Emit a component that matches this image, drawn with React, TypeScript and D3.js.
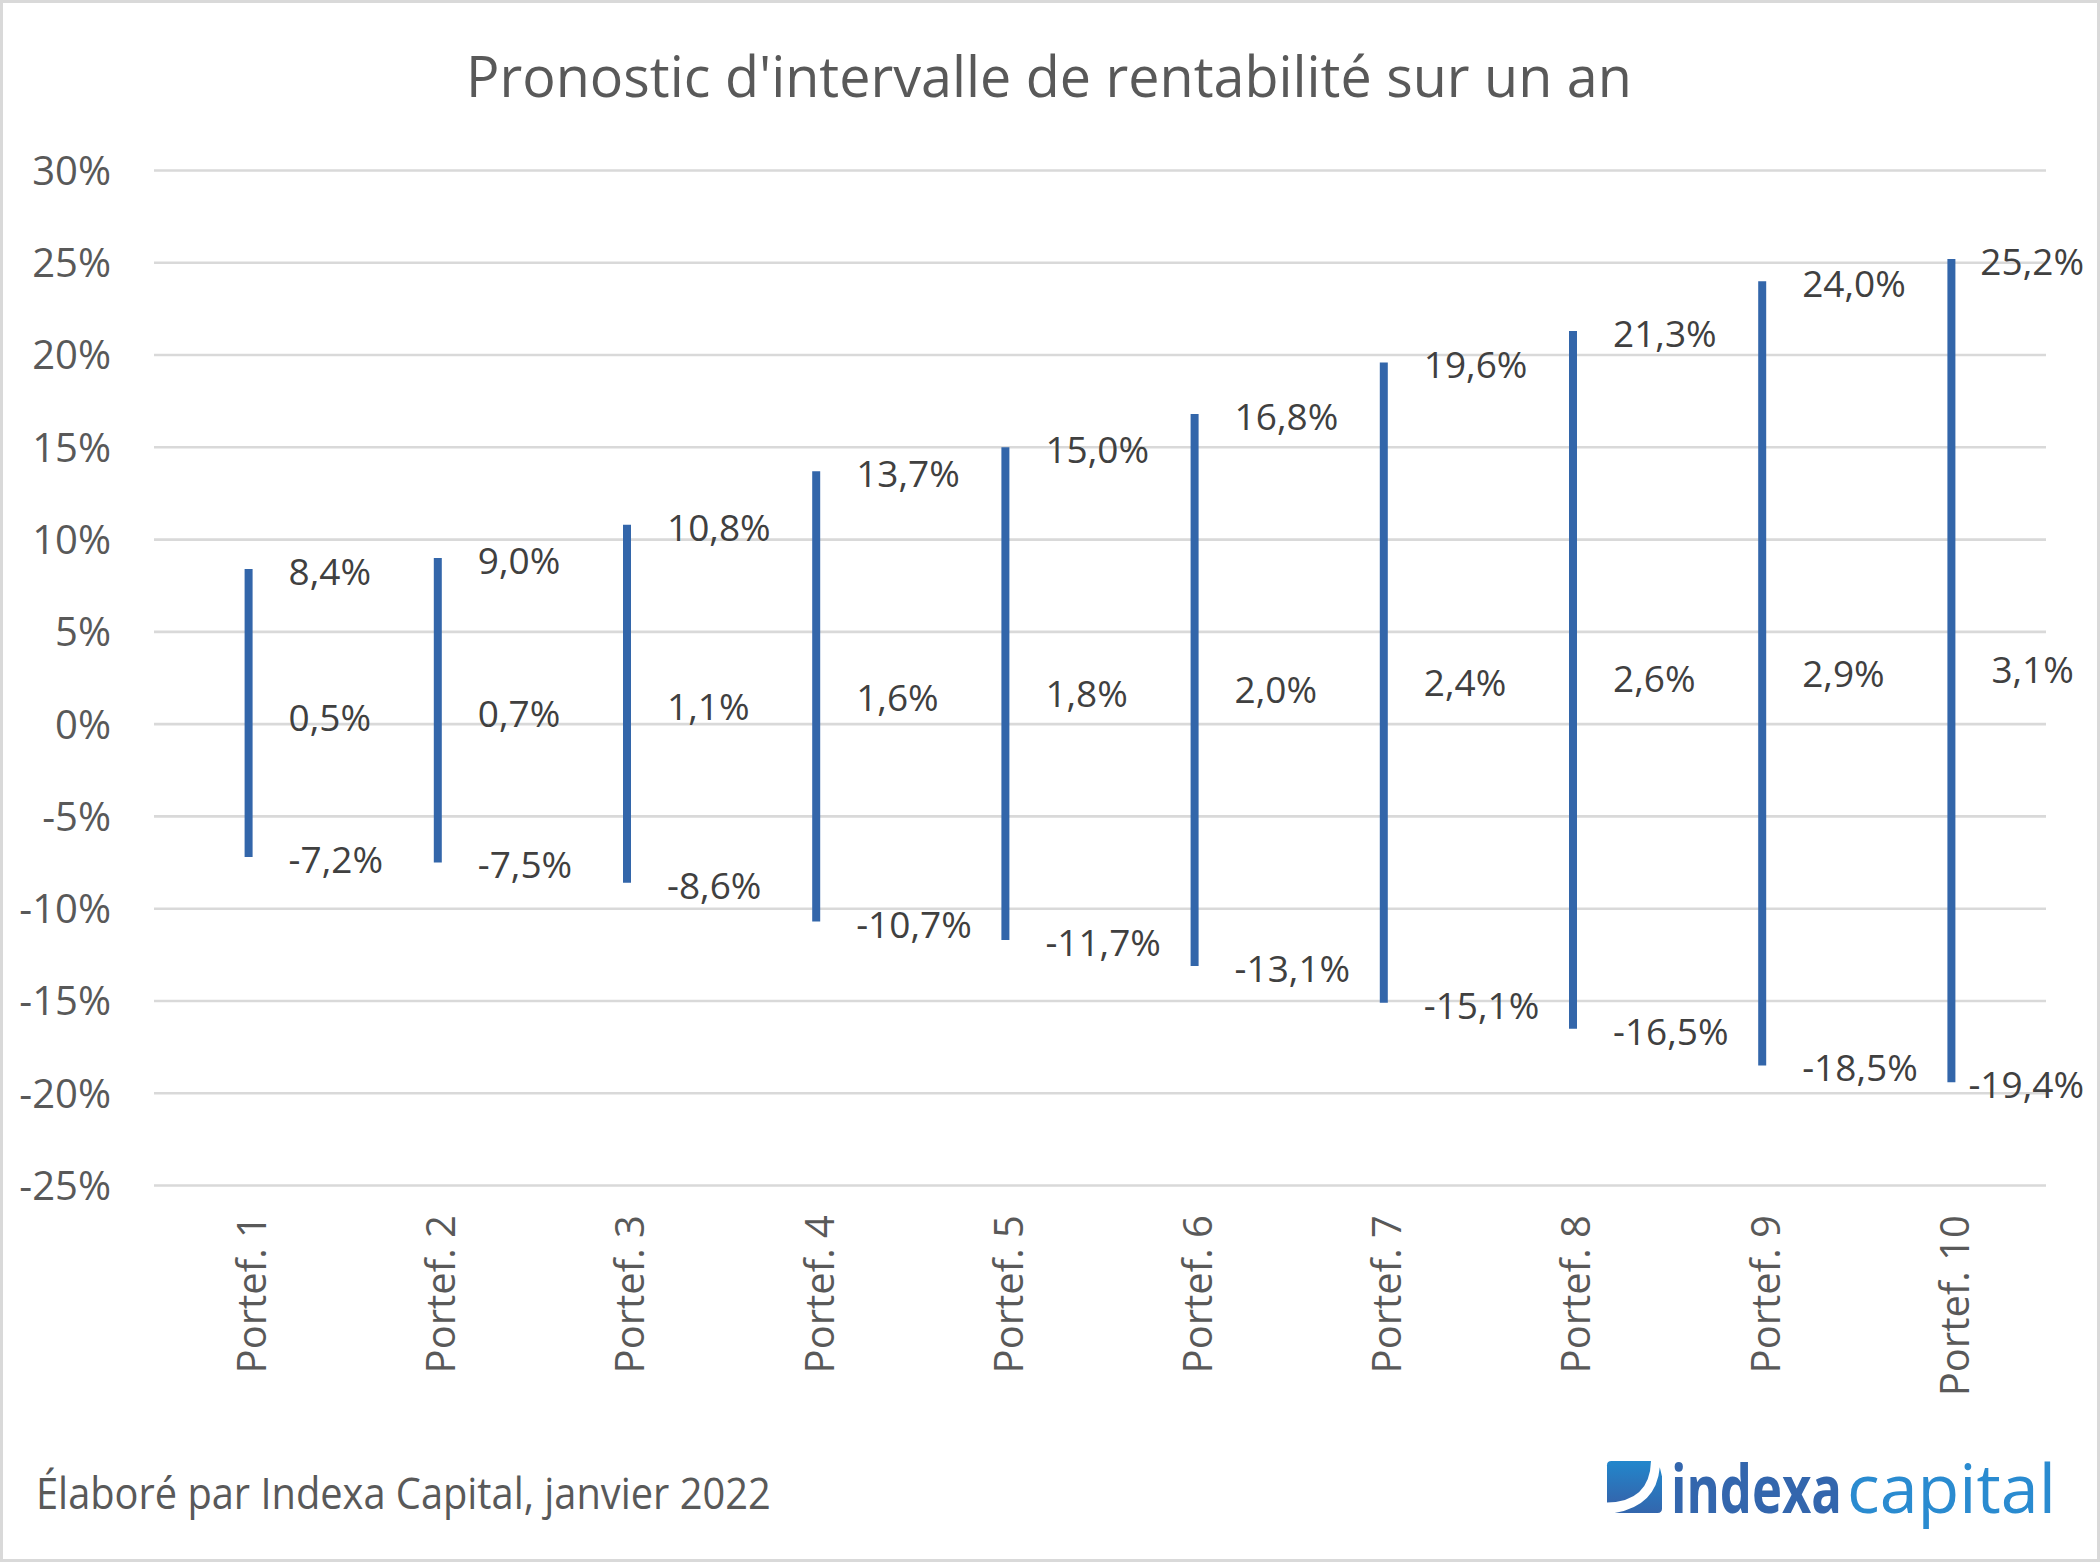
import React, { useEffect, useRef } from "react";
import * as d3 from "d3";

const categories = ["Portef. 1", "Portef. 2", "Portef. 3", "Portef. 4", "Portef. 5", "Portef. 6", "Portef. 7", "Portef. 8", "Portef. 9", "Portef. 10"];
const highValues = [8.4, 9.0, 10.8, 13.7, 15.0, 16.8, 19.6, 21.3, 24.0, 25.2];
const midValues = [0.5, 0.7, 1.1, 1.6, 1.8, 2.0, 2.4, 2.6, 2.9, 3.1];
const lowValues = [-7.2, -7.5, -8.6, -10.7, -11.7, -13.1, -15.1, -16.5, -18.5, -19.4];
const yTicks = [30, 25, 20, 15, 10, 5, 0, -5, -10, -15, -20, -25];
const titleText = "Pronostic d'intervalle de rentabilité sur un an";
const footerText = "Élaboré par Indexa Capital, janvier 2022";

const W = 2100;
const H = 1562;
const FONT = "'Open Sans', 'Noto Sans', sans-serif";
const fmt = (v: number) => v.toFixed(1).replace(".", ",") + "%";

export default function App() {
  const ref = useRef<SVGSVGElement | null>(null);

  useEffect(() => {
    const svg = d3.select(ref.current);
    svg.selectAll("*").remove();

    const x = d3.scaleBand<string>().domain(categories).range([154, 2046]);
    const y = d3.scaleLinear().domain([-25, 30]).range([1185.5, 170.5]);
    const cx = (c: string) => (x(c) as number) + x.bandwidth() / 2;

    // text squeezed horizontally to a target width via a scale transform
    const fitText = (
      txt: string, left: number, baseline: number, width: number,
      size: number, fill: string, weight = 400
    ) => {
      const g = svg.append("g");
      const t = g.append("text").attr("x", 0).attr("y", 0).attr("font-family", FONT)
        .attr("font-size", size).attr("font-weight", weight).attr("fill", fill).text(txt);
      const natural = (t.node() as SVGTextElement).getComputedTextLength() || width;
      g.attr("transform", `translate(${left},${baseline}) scale(${width / natural},1)`);
    };

    svg.append("rect").attr("x", 0).attr("y", 0).attr("width", W).attr("height", H).attr("fill", "#ffffff");
    svg.append("rect").attr("x", 1.5).attr("y", 1.5).attr("width", W - 3).attr("height", H - 3)
      .attr("fill", "none").attr("stroke", "#d9d9d9").attr("stroke-width", 3);

    // title
    fitText(titleText, 466, 96.5, 1166, 56, "#595959");

    // gridlines
    svg.append("g").selectAll("line").data(yTicks).join("line")
      .attr("x1", 154).attr("x2", 2046).attr("y1", (d) => y(d)).attr("y2", (d) => y(d))
      .attr("stroke", "#d9d9d9").attr("stroke-width", 2.6);

    // y tick labels
    svg.append("g").selectAll("text").data(yTicks).join("text")
      .attr("x", 111).attr("y", (d) => y(d)).attr("dy", "0.36em").attr("text-anchor", "end")
      .attr("font-family", FONT).attr("font-size", 40).attr("fill", "#595959").text((d) => `${d}%`);

    // x labels
    svg.append("g").selectAll("text").data(categories).join("text")
      .attr("transform", (d) => `translate(${cx(d) + 3},1215) rotate(-90)`)
      .attr("dy", "0.36em").attr("text-anchor", "end")
      .attr("font-family", FONT).attr("font-size", 40).attr("fill", "#595959").text((d) => d);

    // high-low lines
    svg.append("g").selectAll("line").data(categories).join("line")
      .attr("x1", (d) => cx(d)).attr("x2", (d) => cx(d))
      .attr("y1", (_d, i) => y(highValues[i])).attr("y2", (_d, i) => y(lowValues[i]))
      .attr("stroke", "#3366aa").attr("stroke-width", 8);

    // data labels
    const labelG = svg.append("g");
    const rightLimit = 2084;
    const series = [highValues, midValues, lowValues];
    series.forEach((vals) => {
      categories.forEach((c, i) => {
        const t = labelG.append("text").attr("x", cx(c) + 40).attr("y", y(vals[i])).attr("dy", "0.43em")
          .attr("font-family", FONT).attr("font-size", 37).attr("fill", "#404040").text(fmt(vals[i]));
        const node = t.node() as SVGTextElement;
        const w = node.getComputedTextLength();
        if (cx(c) + 40 + w > rightLimit) t.attr("x", rightLimit - w);
      });
    });

    // footer
    fitText(footerText, 36, 1509, 735, 43, "#595959");

    // logo
    const defs = svg.append("defs");
    const grad = defs.append("linearGradient").attr("id", "logoGrad").attr("x1", 0).attr("y1", 0).attr("x2", 0).attr("y2", 1);
    grad.append("stop").attr("offset", "0%").attr("stop-color", "#2287cc");
    grad.append("stop").attr("offset", "100%").attr("stop-color", "#3366ad");
    const lx = 1607, ly = 1461, lw = 55, lh = 52;
    const P = (px: number, py: number) => `${lx + px * lw},${ly + py * lh}`;
    svg.append("path")
      .attr("d", `M${P(0.08, 0)} L${P(0.8, 0)} Q${P(0.78, 0.78)} ${P(0, 0.8)} L${P(0, 0.08)} Q${P(0, 0)} ${P(0.08, 0)} Z`)
      .attr("fill", "url(#logoGrad)");
    svg.append("path")
      .attr("d", `M${P(0.96, 0.12)} L${P(1, 0.3)} L${P(1, 0.92)} Q${P(1, 1)} ${P(0.92, 1)} L${P(0.14, 1)} Q${P(0.9, 0.86)} ${P(0.96, 0.12)} Z`)
      .attr("fill", "url(#logoGrad)");
    fitText("indexa", 1671, 1513, 171, 67, "#3366ad", 700);
    fitText("capital", 1847, 1513, 209, 67, "#2a8bd0", 400);
  }, []);

  return (
    <svg ref={ref} width={W} height={H} viewBox={`0 0 ${W} ${H}`}
      style={{ position: "absolute", left: 0, top: 0, display: "block" }} />
  );
}
